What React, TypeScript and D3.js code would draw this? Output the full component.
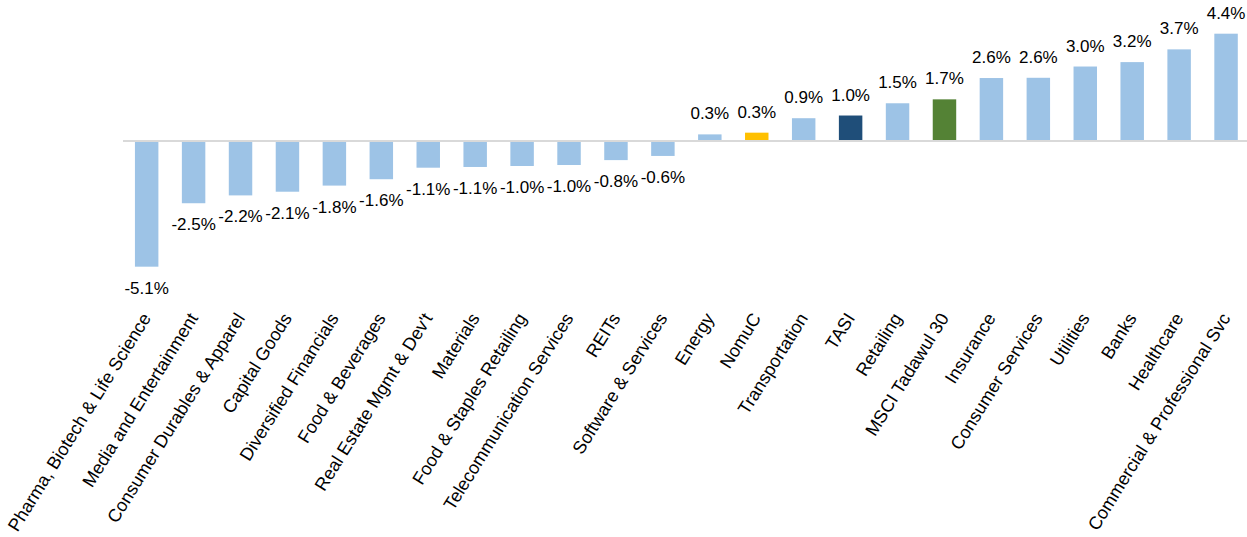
import React from "react";
import * as d3 from "d3";

const categories = [
  "Pharma, Biotech & Life Science",
  "Media and Entertainment",
  "Consumer Durables & Apparel",
  "Capital Goods",
  "Diversified Financials",
  "Food & Beverages",
  "Real Estate Mgmt & Dev't",
  "Materials",
  "Food & Staples Retailing",
  "Telecommunication Services",
  "REITs",
  "Software & Services",
  "Energy",
  "NomuC",
  "Transportation",
  "TASI",
  "Retailing",
  "MSCI Tadawul 30",
  "Insurance",
  "Consumer Services",
  "Utilities",
  "Banks",
  "Healthcare",
  "Commercial & Professional Svc",
];

const values = [
  -5.13, -2.54, -2.22, -2.07, -1.82, -1.56, -1.09, -1.06, -1.02, -0.98, -0.78, -0.61,
  0.27, 0.34, 0.93, 1.04, 1.54, 1.7, 2.57, 2.58, 3.04, 3.22, 3.74, 4.38,
];

const labels = [
  "-5.1%", "-2.5%", "-2.2%", "-2.1%", "-1.8%", "-1.6%", "-1.1%", "-1.1%", "-1.0%", "-1.0%", "-0.8%", "-0.6%",
  "0.3%", "0.3%", "0.9%", "1.0%", "1.5%", "1.7%", "2.6%", "2.6%", "3.0%", "3.2%", "3.7%", "4.4%",
];

const highlight: Record<string, string> = {
  NomuC: "#FFC000",
  TASI: "#1F4E79",
  "MSCI Tadawul 30": "#548235",
};

const W = 1247;
const H = 537;

export default function App() {
  const x = d3
    .scaleBand<string>()
    .domain(categories)
    .range([123.2, 123.2 + 24 * 46.93])
    .paddingInner(0.5)
    .paddingOuter(0.25);
  const y = d3.scaleLinear().domain([-6, 5]).range([141 + 6 * 24.5, 141 - 5 * 24.5]);
  const y0 = y(0);
  const font = "'Liberation Sans', Arial, sans-serif";

  return (
    <svg
      width={W}
      height={H}
      style={{ position: "absolute", left: 0, top: 0, background: "#fff" }}
    >
      {categories.map((c, i) => {
        const v = values[i];
        const bx = x(c)!;
        const top = Math.min(y(v), y0);
        const h = Math.abs(y(v) - y0);
        return (
          <rect
            key={c}
            x={bx}
            y={top}
            width={x.bandwidth()}
            height={h}
            fill={highlight[c] || "#9DC3E6"}
          />
        );
      })}
      <line x1={123} x2={W} y1={y0} y2={y0} stroke="#D9D9D9" strokeWidth={2} />
      {categories.map((c, i) => {
        const v = values[i];
        const cx = x(c)! + x.bandwidth() / 2;
        const ty = v >= 0 ? y(v) - 15 : y(v) + 27;
        return (
          <text
            key={"v" + c}
            x={cx}
            y={ty}
            textAnchor="middle"
            fontFamily={font}
            fontSize={17}
            fill="#000"
          >
            {labels[i]}
          </text>
        );
      })}
      {categories.map((c) => {
        const cx = x(c)! + x.bandwidth() / 2;
        return (
          <text
            key={"c" + c}
            transform={`translate(${cx + 5},318) rotate(-58)`}
            textAnchor="end"
            fontFamily={font}
            fontSize={18}
            fill="#000"
          >
            {c}
          </text>
        );
      })}
    </svg>
  );
}
